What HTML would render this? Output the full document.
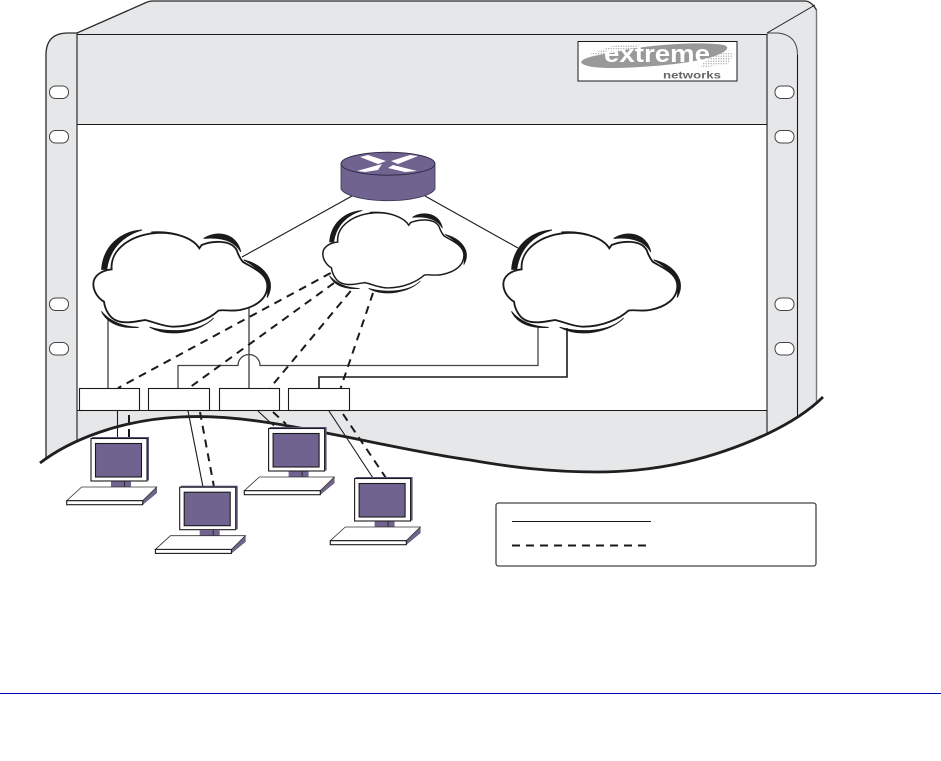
<!DOCTYPE html>
<html><head><meta charset="utf-8"><style>html,body{margin:0;padding:0;background:#fff}svg{display:block}</style></head>
<body>
<svg width="941" height="761" viewBox="0 0 941 761" xmlns="http://www.w3.org/2000/svg" xmlns:xlink="http://www.w3.org/1999/xlink">
<defs>
<clipPath id="w"><path d="M40 463C70 440 120 420 180 417C235 414 290 426 347 437C400 448 440 456 470 460C510 467 550 472 597 472C660 472 715 458 767 434C790 423 810 410 823 397L823 0L40 0Z"/></clipPath>
<pattern id="dots" width="2.500" height="2.500" patternUnits="userSpaceOnUse"><circle cx="1.200" cy="1.200" r=".65" fill="#a5a5a5"/></pattern>
<g id="cloud">
<path fill="#1a1a1a" stroke="#1a1a1a" stroke-width="3" stroke-linejoin="round" d="M125 178C130 110 180 65 245 60C195 75 150 110 140 178Z M275 66C340 62 400 80 420 125C400 95 340 75 275 66Z M432 85C470 60 530 70 542 125C525 95 490 80 432 85Z M552 150C610 165 650 210 622 262C630 215 600 175 552 150Z M478 288C520 302 570 290 600 262C575 300 520 312 478 288Z M132 195C100 215 100 255 138 275C115 250 115 220 132 195Z M125 305C145 345 190 355 235 352C190 350 150 335 125 305Z M270 352C330 385 420 365 460 325C420 365 335 370 270 352Z"/>
<path fill="#fff" stroke="#1a1a1a" stroke-width="5.500" d="M155 178C150 120 210 72 300 68C350 68 400 85 418 115L425 105C450 95 510 85 530 120C535 135 540 145 548 155C580 175 622 190 622 228C622 265 590 290 540 300C510 305 490 298 475 302C450 325 400 350 340 350C310 350 280 335 255 330C225 335 195 342 170 332C150 325 135 300 132 275C115 265 100 245 100 222C100 200 120 182 155 178Z"/>
</g>
<g id="pc">
<rect x="92" y="437" width="57" height="43.500" fill="#5f5480"/>
<rect x="91" y="438.500" width="56" height="42.500" fill="#fff" stroke="#1a1a1a" stroke-width="1.100"/>
<rect x="95.500" y="443.500" width="46" height="33.500" fill="#70638f" stroke="#1a1a1a" stroke-width="1.100"/>
<rect x="111" y="481.500" width="20" height="6" fill="#70638f"/>
<path d="M124.500 481.500V487" stroke="#1a1a1a" stroke-width="0.800"/>
<path d="M156.700 487L142.700 500.700V504.600L156.700 493Z" fill="#70638f" stroke="#555" stroke-width="0.500"/>
<path d="M81.700 487H156.700L142.700 500.700H66.700Z" fill="#fff" stroke="#333" stroke-width="0.800"/>
<rect x="66.700" y="500.700" width="76" height="4" fill="#fff" stroke="#1a1a1a" stroke-width="1.100"/>
</g>
</defs>

<g clip-path="url(#w)">
<path d="M46 480V55Q46 33 68 33H77L145 3Q149 1 153 1H805Q817 1 817 13V480Z" fill="#e6e7e8"/>
<rect x="77" y="124.500" width="690" height="286" fill="#fff"/>
<path d="M46 480V55Q46 33 68 33H77L145 3Q149 1 153 1H805Q811 1 816.500 10" fill="none" stroke="#2a2a2a" stroke-width="1.300"/>
<path d="M816.500 10V480" fill="none" stroke="#777" stroke-width="1.400"/>
<path d="M77 33V480M767 34V480M797.500 55V480" fill="none" stroke="#1a1a1a" stroke-width="1.100"/>
<path d="M767 33H778Q797.500 35 797.500 55" fill="none" stroke="#444" stroke-width="1"/>
<path d="M767 33L815 5" stroke="#1a1a1a" stroke-width="1"/>
<path d="M77 34.500H767M77 124.500H767M77 410.500H767" stroke="#1a1a1a" stroke-width="1.100"/>
<g fill="#fff" stroke="#444" stroke-width="1">
<rect x="49.500" y="86" width="19" height="12.500" rx="6"/><rect x="49.500" y="130.500" width="19" height="12.500" rx="6"/>
<rect x="49.500" y="298" width="19" height="12.500" rx="6"/><rect x="49.500" y="342.500" width="19" height="12.500" rx="6"/>
<rect x="775" y="86" width="19" height="12.500" rx="6"/><rect x="775" y="130.500" width="19" height="12.500" rx="6"/>
<rect x="775" y="298" width="19" height="12.500" rx="6"/><rect x="775" y="342.500" width="19" height="12.500" rx="6"/>
</g>
</g>

<!-- logo -->
<rect x="578" y="41.500" width="159" height="39.500" fill="#fff" stroke="#1a1a1a" stroke-width="1"/>
<path d="M590 54L612 46L640 44V52L612 60Z M712 49L734 54L728 64L700 68Z" fill="url(#dots)"/>
<path d="M581 62C585 55 612 54 625 50C650 45 700 41 724 45C732 48 724 53 712 57C690 64 640 68 610 68C595 68 582 66 581 62Z" fill="#999"/>
<text x="604" y="62" font-family="Liberation Sans, sans-serif" font-weight="bold" font-size="24" fill="#fff" textLength="106" lengthAdjust="spacingAndGlyphs">extreme</text>
<text x="663" y="78.500" font-family="Liberation Sans, sans-serif" font-weight="bold" font-size="10.500" fill="#666" textLength="58" lengthAdjust="spacingAndGlyphs">networks</text>

<!-- connectors -->
<g fill="none" stroke="#1a1a1a" stroke-width="1.100">
<path d="M352 196L242 257M425 196L518 248"/>
<path d="M108 320V388M249 305V388M117.500 410V438M188 411L203 487M258 411L274 426M329 411L373 478"/>
<path d="M178 388V365.500H238A11 11 0 0 1 260 365.500H538V326" stroke="#444" stroke-width="1.300"/>
<path d="M319 388V377H567V328" stroke-width="1.600"/>
</g>
<g fill="none" stroke="#1a1a1a" stroke-width="2" stroke-dasharray="8 6">
<path d="M330.700 273L118 388M334 283L191.700 386M350.700 291L270 388M373 293L340.700 388"/>
<path d="M129 415V438M200 412L214 487M273 412L286 424M343 414L386 478"/>
</g>

<!-- clouds -->
<use xlink:href="#cloud" href="#cloud" transform="translate(60 210) scale(.3333)"/>
<use xlink:href="#cloud" href="#cloud" transform="translate(295.800 194.500) scale(.2703 .267)"/>
<use xlink:href="#cloud" href="#cloud" transform="translate(470 210) scale(.3333)"/>

<!-- router -->
<path d="M341 164V189C345 196 365 200.700 388 200.700C411 200.700 431 196 435 189V164Z" fill="#70638f"/>
<path d="M341 164V189C345 196 365 200.700 388 200.700C411 200.700 431 196 435 189V164" fill="none" stroke="#3b3350" stroke-width="0.800"/>
<ellipse cx="388" cy="163.700" rx="47" ry="11.500" fill="#70638f" stroke="#2a2540" stroke-width="0.900"/>
<g fill="#fff">
<path d="M360 157L368 155L386 161L378 164Z"/>
<path d="M391 161L410 155L418 156L398 164Z"/>
<path d="M357 171L382 164L378 170L365 172Z"/>
<path d="M393 165L417 171L405 172L388 168Z"/>
</g>

<!-- boxes -->
<g fill="#fff" stroke="#1a1a1a" stroke-width="1.100">
<rect x="79.500" y="388.500" width="60" height="22"/>
<rect x="148.500" y="388.500" width="61" height="22"/>
<rect x="219.500" y="388.500" width="60" height="22"/>
<rect x="288.500" y="388.500" width="61" height="22"/>
</g>

<!-- wave -->
<path d="M40 463C70 440 120 420 180 417C235 414 290 426 347 437C400 448 440 456 470 460C510 467 550 472 597 472C660 472 715 458 767 434C790 423 810 410 823 397" fill="none" stroke="#1f1f1f" stroke-width="2.800"/>

<!-- PCs -->
<use xlink:href="#pc" href="#pc"/>
<use xlink:href="#pc" href="#pc" transform="translate(88.700 48.700)"/>
<use xlink:href="#pc" href="#pc" transform="translate(177.600 -10)"/>
<use xlink:href="#pc" href="#pc" transform="translate(263.600 40)"/>

<!-- legend -->
<rect x="496" y="503" width="320" height="63" rx="2.500" fill="#fff" stroke="#444" stroke-width="1.300"/>
<path d="M512 521.500H651" stroke="#1a1a1a" stroke-width="1"/>
<path d="M512 545.500H646" stroke="#1a1a1a" stroke-width="2" stroke-dasharray="8 6"/>

<!-- rule -->
<path d="M0 693.500H941" stroke="#0000b4" stroke-width="1"/>
</svg>
</body></html>
